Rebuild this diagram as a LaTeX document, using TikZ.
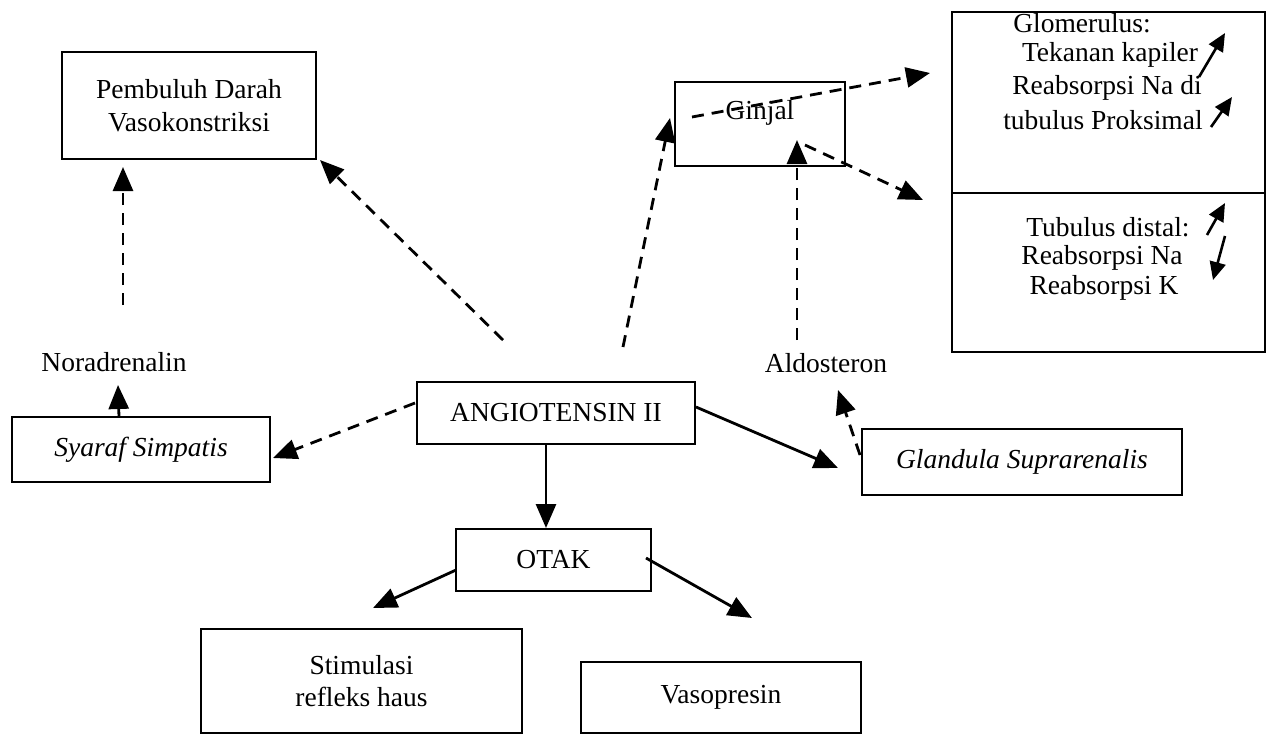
\documentclass[tikz,border=0pt]{standalone}
\usepackage{fontspec}
\setmainfont{Liberation Serif}
\usetikzlibrary{arrows.meta}
\begin{document}
\begin{tikzpicture}[x=0.5pt,y=-0.5pt,
 box/.style={draw,line width=1.3pt,inner sep=0pt,align=center},
 txt/.style={inner sep=0pt,align=center},
 dsh/.style={line width=1.4pt,dash pattern=on 6pt off 4pt,-{Triangle[length=12pt,width=10pt]}},
 sol/.style={line width=1.4pt,-{Triangle[length=12pt,width=10pt]}},
 sml/.style={line width=1.3pt,-{Triangle[length=9pt,width=8pt]}},
 font=\fontsize{13.75}{16.25}\selectfont]
\useasboundingbox (0,0) rectangle (1270,735);
% boxes
\node[box,minimum width=127pt,minimum height=53.5pt] (pemb) at (189,105.5) {Pembuluh Darah\\Vasokonstriksi};
\node[box,minimum width=85pt,minimum height=42pt] (ginjal) at (760,124) {};
\node[txt] (gtxt) at (760,113) {Ginjal};
\node[box,minimum width=156.5pt,minimum height=90.5pt] (glom) at (1108.5,102.5) {};
\node[box,minimum width=156.5pt,minimum height=79.5pt] (tub) at (1108.5,272.5) {};
\node[box,minimum width=139pt,minimum height=31pt] (angio) at (556,413) {ANGIOTENSIN II};
\node[box,minimum width=97.5pt,minimum height=31pt] (otak) at (553.5,560) {OTAK};
\node[box,minimum width=129pt,minimum height=32.5pt] (syaraf) at (141,449.5) {\textit{Syaraf Simpatis}};
\node[box,minimum width=160pt,minimum height=33pt] (gland) at (1022,462) {\textit{Glandula Suprarenalis}};
\node[box,minimum width=160.5pt,minimum height=52pt] (stim) at (361.5,681) {Stimulasi\\refleks haus};
\node[box,minimum width=140pt,minimum height=35.5pt] (vaso) at (721,697.5) {Vasopresin};
% texts in kidney box
\node[txt] (g1) at (1082,23) {Glomerulus:};
\node[txt] (g2) at (1110,55) {Tekanan kapiler};
\node[txt] (g3) at (1107,88) {Reabsorpsi Na di};
\node[txt] (g4) at (1103,120) {tubulus Proksimal};
\node[txt] (t1) at (1108,227) {Tubulus distal:};
\node[txt] (t2) at (1102,258) {Reabsorpsi Na};
\node[txt] (t3) at (1104,288) {Reabsorpsi K};
% labels
\node[txt] (norad) at (114,362) {Noradrenalin};
\node[txt] (aldo) at (826,363) {Aldosteron};
% coordinates
\coordinate (a1) at (123,305); \coordinate (a2) at (123,167);
\coordinate (b1) at (503,340); \coordinate (b2) at (320,160);
\coordinate (c1) at (415,403); \coordinate (c2) at (273,458);
\coordinate (d1) at (119,417); \coordinate (d2) at (118,385);
\coordinate (e1) at (623,347); \coordinate (e2) at (670,118);
\coordinate (f1) at (692,117); \coordinate (f2) at (930,73);
\coordinate (h1) at (797,340); \coordinate (h2) at (797,140);
\coordinate (i1) at (805,145); \coordinate (i2) at (923,200);
\coordinate (j1) at (860,455); \coordinate (j2) at (838,390);
\coordinate (k1) at (696,407); \coordinate (k2) at (838,468);
\coordinate (l1) at (546,444); \coordinate (l2) at (546,528);
\coordinate (m1) at (456,570); \coordinate (m2) at (373,608);
\coordinate (n1) at (646,558); \coordinate (n2) at (752,618);
\coordinate (s1a) at (1199,77); \coordinate (s1b) at (1225,33);
\coordinate (s2a) at (1211,127); \coordinate (s2b) at (1232,97);
\coordinate (s3a) at (1207,235); \coordinate (s3b) at (1225,203);
\coordinate (s4a) at (1225,236); \coordinate (s4b) at (1213,280);
% connectors
\draw[dsh] (a1) -- (a2);
\draw[dsh] (b1) -- (b2);
\draw[dsh] (c1) -- (c2);
\draw[dsh] (d1) -- (d2);
\draw[dsh] (e1) -- (e2);
\draw[dsh] (f1) -- (f2);
\draw[dsh] (h1) -- (h2);
\draw[dsh] (i1) -- (i2);
\draw[dsh] (j1) -- (j2);
\draw[sol] (k1) -- (k2);
\draw[sol] (l1) -- (l2);
\draw[sol] (m1) -- (m2);
\draw[sol] (n1) -- (n2);
\draw[sml] (s1a) -- (s1b);
\draw[sml] (s2a) -- (s2b);
\draw[sml] (s3a) -- (s3b);
\draw[sml] (s4a) -- (s4b);
\end{tikzpicture}
\end{document}
